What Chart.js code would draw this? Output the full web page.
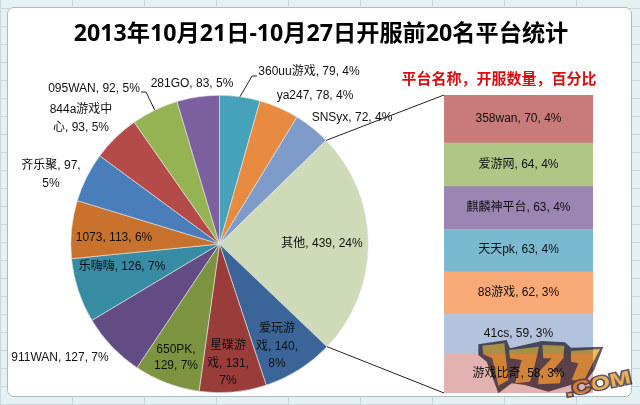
<!DOCTYPE html>
<html>
<head>
<meta charset="utf-8">
<script src="https://cdn.jsdelivr.net/npm/chart.js@4"></script>
<style>
  html, body { margin: 0; padding: 0; }
  body {
    width: 640px; height: 405px; position: relative; overflow: hidden;
    background-color: #e4f0f2;
    background-image:
      repeating-linear-gradient(90deg, #c5d8dc 0 1px, transparent 1px 72px),
      repeating-linear-gradient(0deg, #c5d8dc 0 1px, transparent 1px 18px);
  }
  #frame {
    position: absolute; left: 7px; top: 7px; width: 625px; height: 390px;
    background: #fff; border: 1px solid #a9bcc4; border-radius: 7px; box-sizing: border-box;
  }
  canvas { position: absolute; left: 0; top: 0; }
  #title {
    position: absolute; left: 0; top: 15px; width: 642px; text-align: center; color: #000;
    font: bold 23.2px "Noto Sans", "Noto Sans CJK SC", sans-serif; line-height: 34px; white-space: nowrap;
  }
  #subtitle {
    position: absolute; left: 400px; top: 67px; width: 198px; text-align: center; color: #d80f0f;
    font: bold 15px "Noto Sans CJK SC", sans-serif; line-height: 22px; white-space: nowrap;
  }
  #mark { position: absolute; left: 465px; top: 325px; mix-blend-mode: multiply; }
</style>
</head>
<body>
<div id="frame"></div>
<canvas id="pieCanvas" width="640" height="405"></canvas>
<canvas id="barCanvas" width="640" height="405"></canvas>
<div id="title">2013年10月21日-10月27日开服前20名平台统计</div>
<div id="subtitle">平台名称，开服数量，百分比</div>
<!-- site watermark, bottom right -->
<svg id="mark" width="175" height="80" viewBox="0 0 525 240">
  <polygon fill="#655c66" points="40,58 125,45 135,70 230,48 300,52 318,68 415,65 388,135 365,165 300,185 250,200 180,180 140,175 100,205 65,110 40,90"/>
  <g fill="#ecbd50">
    <polygon points="52,62 118,55 130,165 100,182 82,100 55,88"/>
    <polygon points="132,75 222,65 212,110 195,170 150,175 170,105 135,100"/>
    <polygon points="232,60 298,62 295,100 260,140 290,140 285,175 220,178 222,140 260,100 235,100"/>
    <polygon points="318,78 405,72 385,110 355,170 320,165 340,115 318,110"/>
  </g>
  <text transform="translate(305 215) rotate(-12)" font-family="Liberation Sans, sans-serif" font-weight="bold" font-size="56" textLength="200" lengthAdjust="spacingAndGlyphs" fill="#eeb055" stroke="#655c66" stroke-width="9" paint-order="stroke">.COM</text>
</svg>

<script>
// pie slices, clockwise from 12 o'clock
const platformNames = ['360uu游戏', 'ya247', 'SNSyx', '其他', '爱玩游戏', '星碟游戏', '650PK', '911WAN', '乐嗨嗨', '1073', '齐乐聚', '844a游戏中心', '095WAN', '281GO'];
const platformCounts = [79, 78, 72, 439, 140, 131, 129, 127, 126, 113, 97, 93, 92, 83];

// the "其他" slice broken out into the stacked column
const otherNames = ['358wan', '爱游网', '麒麟神平台', '天天pk', '88游戏', '41cs', '游戏比奇'];
const otherCounts = [70, 64, 63, 63, 62, 59, 58];

const pieColors = ['#46a2ba', '#e98a41', '#7f9bca', '#cfdab9', '#3b6598', '#9a3c3a', '#7c9440', '#634c83', '#378ba2', '#c8722e', '#4a7ebb', '#b44b48', '#96b354', '#7b5f9f'];
const barColors = ['#c87b79', '#afc686', '#9a85b3', '#7ab9d0', '#f9a975', '#b3c2dd', '#e2b2b1'];

// label placement: centre of the first line, line height, and where the text wraps
const labelX = [309, 315, 352, 322, 277, 228, 176, 60, 122, 114, 51, 81, 94, 192];
const labelY = [72, 96, 118, 244, 329, 346, 350, 358, 267, 238, 166, 110, 89, 84];
const labelGap = [0, 0, 0, 0, 17.5, 17.5, 16, 0, 0, 0, 18, 18, 0, 0];
const labelWraps = [[], [], [], [], [3, 11], [3, 11], [6], [], [], [], [8], [7], [], []];

const LABEL_FONT = '12px "Liberation Sans", "Noto Sans CJK SC", sans-serif';
const total = platformCounts.reduce((a, b) => a + b, 0);
const pct = v => Math.round(v / total * 100) + '%';

function splitLabel(text, wraps) {
  const lines = [];
  let from = 0;
  wraps.forEach(at => { lines.push(text.slice(from, at).trim()); from = at; });
  lines.push(text.slice(from).trim());
  return lines;
}

function arcPoint(arc, angle, r) {
  return { x: arc.x + Math.cos(angle) * r, y: arc.y + Math.sin(angle) * r };
}

// slice labels and the two short leader lines
const pieLabels = {
  id: 'pieLabels',
  afterDraw(chart) {
    const ctx = chart.ctx;
    const arcs = chart.getDatasetMeta(0).data;
    ctx.save();
    ctx.font = LABEL_FONT;
    ctx.fillStyle = '#111';
    ctx.textAlign = 'center';
    ctx.textBaseline = 'middle';
    platformNames.forEach((name, i) => {
      const text = `${name}, ${platformCounts[i]}, ${pct(platformCounts[i])}`;
      splitLabel(text, labelWraps[i]).forEach((line, n) => {
        ctx.fillText(line, labelX[i], labelY[i] + n * labelGap[i]);
      });
    });

    ctx.strokeStyle = '#222';
    ctx.lineWidth = 1;
    // 360uu
    let a = arcs[0], p = arcPoint(a, (a.startAngle + a.endAngle) / 2, a.outerRadius);
    ctx.beginPath(); ctx.moveTo(p.x, p.y); ctx.lineTo(252, 76); ctx.lineTo(257, 76); ctx.stroke();
    // 095WAN
    a = arcs[12]; p = arcPoint(a, (a.startAngle + a.endAngle) / 2, a.outerRadius);
    ctx.beginPath(); ctx.moveTo(p.x, p.y); ctx.lineTo(146, 92); ctx.lineTo(141, 92); ctx.stroke();
    ctx.restore();
  }
};

// column labels and the lines that join the column to the "其他" slice
const barLabels = {
  id: 'barLabels',
  afterDraw(chart) {
    const ctx = chart.ctx;
    const area = chart.chartArea;
    ctx.save();
    ctx.font = LABEL_FONT;
    ctx.fillStyle = '#111';
    ctx.textAlign = 'center';
    ctx.textBaseline = 'middle';
    otherNames.forEach((name, i) => {
      const bar = chart.getDatasetMeta(i).data[0];
      ctx.fillText(`${name}, ${otherCounts[i]}, ${pct(otherCounts[i])}`, bar.x, (bar.y + bar.base) / 2);
    });

    const other = pieChart.getDatasetMeta(0).data[3];
    const top = arcPoint(other, other.startAngle, other.outerRadius);
    const bottom = arcPoint(other, other.endAngle, other.outerRadius);
    ctx.strokeStyle = '#222';
    ctx.lineWidth = 1;
    ctx.beginPath();
    ctx.moveTo(top.x, top.y); ctx.lineTo(area.left, area.top);
    ctx.moveTo(bottom.x, bottom.y); ctx.lineTo(area.left, area.bottom);
    ctx.stroke();
    ctx.restore();
  }
};

const pieChart = new Chart(document.getElementById('pieCanvas'), {
  type: 'pie',
  data: {
    labels: platformNames,
    datasets: [{ data: platformCounts, backgroundColor: pieColors, borderColor: '#e4e9ea', borderWidth: 0.6 }]
  },
  options: {
    responsive: false,
    animation: false,
    layout: { padding: { left: 70, right: 271, top: 95, bottom: 12 } },
    plugins: { legend: { display: false }, tooltip: { enabled: false } }
  },
  plugins: [pieLabels]
});

new Chart(document.getElementById('barCanvas'), {
  type: 'bar',
  data: {
    labels: ['其他'],
    datasets: otherNames.map((name, i) => ({
      label: name,
      data: [otherCounts[i]],
      backgroundColor: barColors[i],
      barPercentage: 1,
      categoryPercentage: 1
    }))
  },
  options: {
    responsive: false,
    animation: false,
    layout: { padding: { left: 444, right: 47, top: 95, bottom: 12 } },
    scales: {
      x: { display: false, stacked: true },
      y: { display: false, stacked: true, reverse: true, min: 0, max: otherCounts.reduce((a, b) => a + b, 0) }
    },
    plugins: { legend: { display: false }, tooltip: { enabled: false } }
  },
  plugins: [barLabels]
});
</script>
</body>
</html>
